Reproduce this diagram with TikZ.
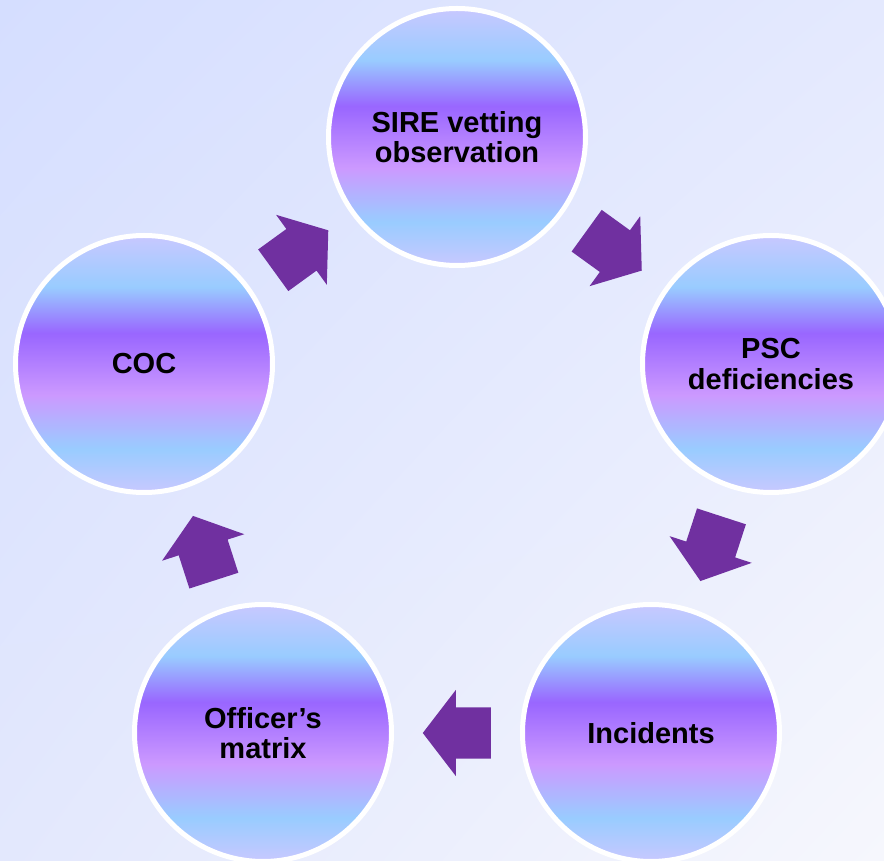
\documentclass[tikz,border=0pt]{standalone}
\usepackage{fontspec}
\setmainfont{Liberation Sans}
\usetikzlibrary{shapes.arrows,calc,shadings}
\definecolor{orbA}{HTML}{C8C8FF}
\definecolor{orbB}{HTML}{99CCFF}
\definecolor{orbV}{HTML}{9966FF}
\definecolor{orbP}{HTML}{CC99FF}
\definecolor{arrowc}{HTML}{7030A0}
\definecolor{bgTL}{HTML}{D5DEFF}
\definecolor{bgTR}{HTML}{E4E9FE}
\definecolor{bgBL}{HTML}{E3E8FD}
\definecolor{bgBR}{HTML}{F6F7FD}
\pgfdeclareverticalshading{orb}{100bp}{color(0bp)=(orbA); color(25bp)=(orbA); color(33.5bp)=(orbB); color(44bp)=(orbP); color(56bp)=(orbV); color(65bp)=(orbB); color(75bp)=(orbA); color(100bp)=(orbA)}
\newcommand\shaftstrut{\vrule width 0pt height 25.5pt depth 25.5pt}
\begin{document}
\begin{tikzpicture}[x=1pt,y=1pt,
  orbnode/.style={circle, minimum size=257pt, inner sep=0pt, draw=white, line width=5pt,
    shading=orb, text=black, align=center,
    font=\bfseries\fontsize{29}{30.5}\selectfont},
  cyclearrow/.style={single arrow, fill=arrowc, draw=none, inner sep=0pt,
    minimum height=68pt, single arrow head extend=17.5pt,
    single arrow tip angle=105, sloped, allow upside down, anchor=tail, pos=0.4124}]
\useasboundingbox (0,0) rectangle (884,860);
\clip (0,0) rectangle (884,860);
\shade[upper left=bgTL, upper right=bgTR, lower left=bgBL, lower right=bgBR] (0,0) rectangle (884,860);

\node[orbnode] (sire) at (457,723) {SIRE vetting\\observation};
\node[orbnode] (psc) at (771,496) {PSC\\deficiencies};
\node[orbnode] (inc) at (651,127) {Incidents};
\node[orbnode] (off) at (263,127) {Officer’s\\matrix};
\node[orbnode] (coc) at (144,496) {COC};

\path (coc.center) -- node[cyclearrow] (a1) {\shaftstrut} (sire.center);
\path (sire.center) -- node[cyclearrow] (a2) {\shaftstrut} (psc.center);
\path (psc.center) -- node[cyclearrow] (a3) {\shaftstrut} (inc.center);
\path (inc.center) -- node[cyclearrow] (a4) {\shaftstrut} (off.center);
\path (off.center) -- node[cyclearrow] (a5) {\shaftstrut} (coc.center);
\end{tikzpicture}
\end{document}
